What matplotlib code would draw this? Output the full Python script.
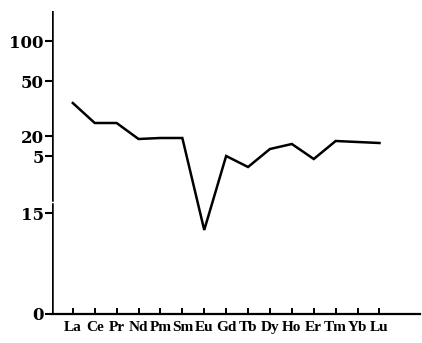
import numpy as np
import matplotlib.pyplot as plt

# REE pattern; y is in the figure's own (broken) axis units
elements = ['La', 'Ce', 'Pr', 'Nd', 'Pm', 'Sm', 'Eu', 'Gd', 'Tb', 'Dy', 'Ho', 'Er', 'Tm', 'Yb', 'Lu']
level = [211, 191, 191, 175, 176, 176, 84, 158, 147, 165, 170, 155, 173, 172, 171]
ytick_pos = [0, 101, 158, 178, 233, 273]
ytick_lab = ['0', '15', '5', '20', '50', '100']

fig = plt.figure(figsize=(4.22, 3.43), dpi=100)
ax = fig.add_axes([52/422, 1-314/343, 368/422, 303/343])

x = np.arange(len(elements))
ax.plot(x, level, color='black', lw=1.8, solid_joinstyle='miter')

ax.set_xlim(-0.95, 15.85)
ax.set_ylim(0, 303)

for s in ['top', 'right', 'left']:
    ax.spines[s].set_visible(False)
ax.spines['bottom'].set_linewidth(1.6)
# left axis drawn in two pieces, with the break of the scan
ax.axvline(-0.95, ymin=0, ymax=110/303, color='black', lw=1.8)
ax.axvline(-0.95, ymin=114/303, ymax=1, color='black', lw=1.8)

ax.set_xticks(x)
ax.set_xticklabels(elements, family='Liberation Serif', fontsize=11, fontweight='bold')
ax.tick_params(axis='x', direction='in', length=4, width=1.4, pad=5)

ax.set_yticks(ytick_pos)
ax.set_yticklabels(ytick_lab, family='DejaVu Serif', fontsize=12, fontweight='bold')
ax.tick_params(axis='y', direction='out', length=5, width=1.5, pad=1)

fig.savefig('out.png', dpi=100)
